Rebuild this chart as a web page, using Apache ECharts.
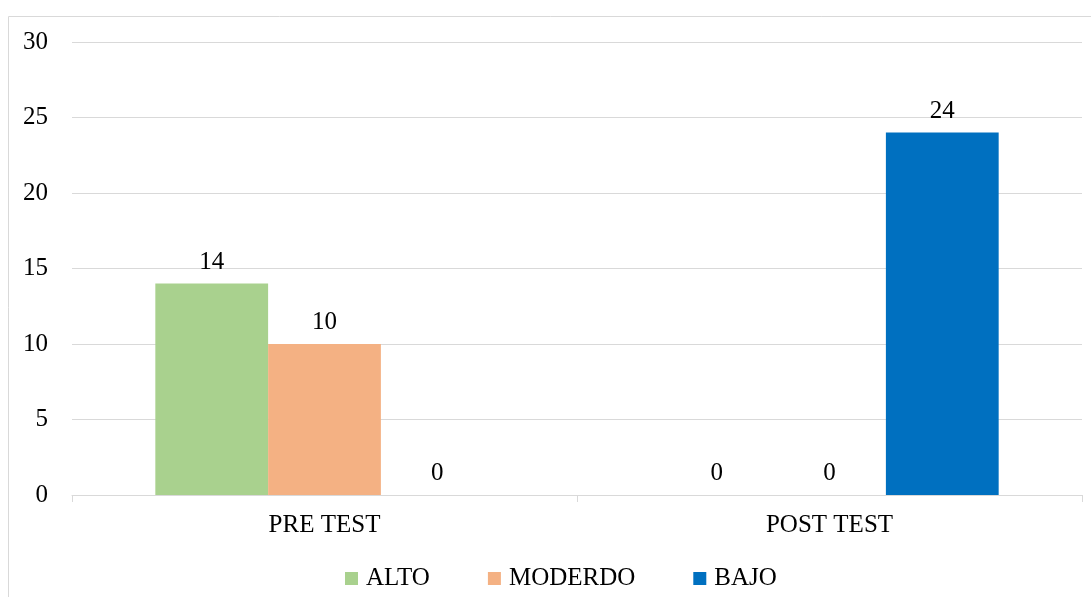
<!DOCTYPE html>
<html>
<head>
<meta charset="utf-8">
<script src="https://cdn.jsdelivr.net/npm/echarts@6/dist/echarts.min.js"></script>
<style>
  html, body { margin: 0; padding: 0; background: #fff; }
  #chart { width: 1091px; height: 597px; }
</style>
</head>
<body>
<div id="chart"></div>
<script>
// Test phases on the x axis
const categories = ['PRE TEST', 'POST TEST'];
// Counts per level
const seriesNames = ['ALTO', 'MODERDO', 'BAJO'];
const alto = [14, 0];
const moderdo = [10, 0];
const bajo = [0, 24];
const colors = ['#A9D18E', '#F4B183', '#0070C0'];

const font = '"Liberation Serif", "Times New Roman", serif';
const chart = echarts.init(document.getElementById('chart'));

function bar(name, data, color) {
  return {
    name: name,
    type: 'bar',
    data: data,
    barGap: '0%',
    barCategoryGap: '33%',
    itemStyle: { color: color },
    label: {
      show: true,
      position: 'top',
      distance: 9,
      color: '#000',
      fontFamily: font,
      fontSize: 25
    }
  };
}

chart.setOption({
  animation: false,
  textStyle: { fontFamily: font },
  graphic: [{
    type: 'rect',
    shape: { x: 8.5, y: 16.5, width: 1200, height: 700 },
    style: { fill: 'none', stroke: '#d9d9d9', lineWidth: 1 },
    silent: true
  }],
  grid: { left: 72, right: 9, top: 42, bottom: 102, containLabel: false },
  legend: {
    data: seriesNames,
    bottom: 1,
    left: 340,
    itemWidth: 13,
    itemHeight: 13,
    itemGap: 58,
    icon: 'rect',
    textStyle: { color: '#000', fontFamily: font, fontSize: 25, padding: [0, 0, 0, 3] }
  },
  xAxis: {
    type: 'category',
    data: categories,
    axisLine: { lineStyle: { color: '#d9d9d9', width: 1 } },
    axisTick: { show: true, length: 7, lineStyle: { color: '#d9d9d9' } },
    axisLabel: { color: '#000', fontFamily: font, fontSize: 25, margin: 18 }
  },
  yAxis: {
    type: 'value',
    min: 0,
    max: 30,
    interval: 5,
    axisLine: { show: false },
    axisTick: { show: false },
    splitLine: { lineStyle: { color: '#d9d9d9', width: 1 } },
    axisLabel: { color: '#000', fontFamily: font, fontSize: 25, margin: 24 }
  },
  series: [
    bar(seriesNames[0], alto, colors[0]),
    bar(seriesNames[1], moderdo, colors[1]),
    bar(seriesNames[2], bajo, colors[2])
  ]
});
</script>
</body>
</html>
